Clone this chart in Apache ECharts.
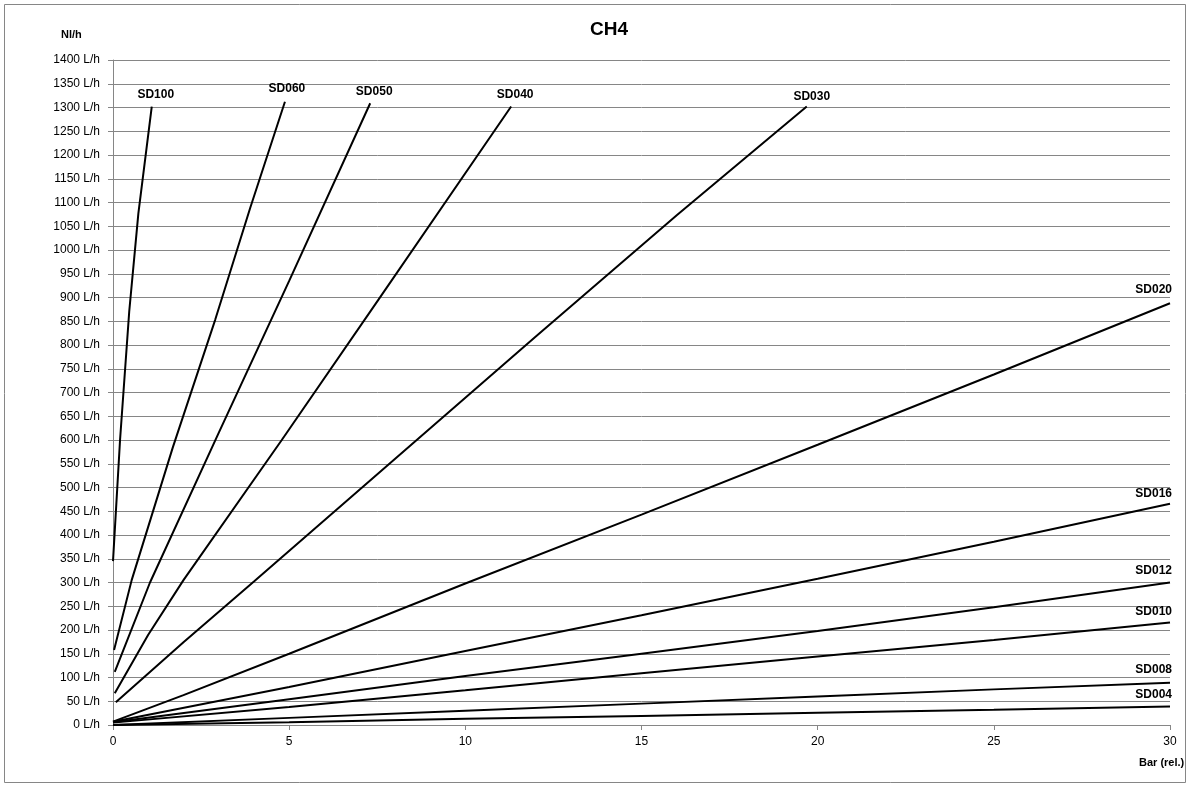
<!DOCTYPE html>
<html>
<head>
<meta charset="utf-8">
<script src="https://cdn.jsdelivr.net/npm/echarts@6/dist/echarts.min.js"></script>
<style>
html,body{margin:0;padding:0;background:#fff;}
#chart{width:1190px;height:785px;}
</style>
</head>
<body>
<div id="chart"></div>
<script>
// ---- data (Bar rel. , Nl/h) ----
const seriesNames = ['SD100','SD060','SD050','SD040','SD030','SD020','SD016','SD012','SD010','SD008','SD004'];
const sd100 = [[0,345],[0.2,600],[0.46,870],[0.72,1077],[1.1,1302]];
const sd060 = [[0.03,158],[0.53,305],[1.7,585],[2.9,853],[3.9,1090],[4.88,1312]];
const sd050 = [[0.05,112],[1.05,300],[3,615],[5,935],[7.3,1309]];
const sd040 = [[0.05,67],[1,190],[2,305],[4.79,600],[7.53,895],[11.3,1302]];
const sd030 = [[0.08,48],[2,174],[4,302],[8,560],[12,818],[16,1073],[19.69,1302]];
const sd020 = [[0,7],[1,35],[2,63],[5,150],[10,298],[15,443],[20,590],[25,738],[30,888]];
const sd016 = [[0,7],[5,80],[10,156],[15,231],[20,308],[25,386],[30,466]];
const sd012 = [[0,6],[5,54],[10,103],[15,150],[20,198],[25,248],[30,300]];
const sd010 = [[0,5],[5,38],[10,73],[15,109],[20,144],[25,179],[30,216]];
const sd008 = [[0,0],[5,15],[10,30],[15,45],[20,60],[25,75],[30,89]];
const sd004 = [[0,0],[5,6],[10,13],[15,19],[20,26],[25,32],[30,39]];
const allData = [sd100,sd060,sd050,sd040,sd030,sd020,sd016,sd012,sd010,sd008,sd004];
const yTickStep = 50;
const xTickStep = 5;

const labelAlign = ['center','center','center','center','center','right','right','right','right','right','right'];
const labelDx = [4,2,4,4,5,2,2,2,2,2,2];
const labelDy = [-12,-13,-12,-12,-10,-14,-10,-12,-11,-13,-12];

const chart = echarts.init(document.getElementById('chart'), null, {renderer:'canvas'});
const FONT = '"Liberation Sans", Arial, sans-serif';

const series = allData.map((d,i)=>({
  name: seriesNames[i],
  type:'line',
  data:d,
  showSymbol:false,
  symbol:'none',
  smooth:false,
  lineStyle:{color:'#000',width:2},
  z:3,
  silent:true,
  animation:false
}));

series.push({
  type:'scatter',
  symbolSize:0,
  silent:true,
  animation:false,
  itemStyle:{color:'#000',opacity:1},
  data: allData.map((d,i)=>({
    value:d[d.length-1],
    label:{
      show:true,
      formatter:seriesNames[i],
      position:'inside',
      align:labelAlign[i],
      verticalAlign:'middle',
      offset:[labelDx[i],labelDy[i]],
      fontFamily:FONT,
      fontWeight:'bold',
      fontSize:12,
      color:'#000',
      opacity:1,
      textBorderWidth:0,
      textBorderColor:'transparent'
    }
  })),
  z:5
});

chart.setOption({
  backgroundColor:'#fff',
  animation:false,
  grid:{left:113,right:20,top:60,bottom:60},
  xAxis:{
    type:'value',min:0,max:30,interval:xTickStep,
    axisLine:{show:true,lineStyle:{color:'#868686',width:1}},
    axisTick:{show:true,length:5,lineStyle:{color:'#868686'}},
    splitLine:{show:false},
    axisLabel:{fontFamily:FONT,fontSize:12,color:'#000',margin:11}
  },
  yAxis:{
    type:'value',min:0,max:1400,interval:yTickStep,
    axisLine:{show:true,lineStyle:{color:'#868686',width:1}},
    axisTick:{show:true,length:5,lineStyle:{color:'#868686'}},
    splitLine:{show:true,lineStyle:{color:'#868686',width:1}},
    axisLabel:{fontFamily:FONT,fontSize:12,color:'#000',margin:13,formatter:function(v){return String(v)+' L/h';}}
  },
  graphic:[
    {type:'rect',shape:{x:4.5,y:4.5,width:1181,height:778},style:{fill:null,stroke:'#868686',lineWidth:1},silent:true,z:-1},
    {type:'text',left:590,top:20,style:{text:'CH4',font:'bold 19px '+FONT,fill:'#000'}},
    {type:'text',left:61,top:29,style:{text:'Nl/h',font:'bold 11px '+FONT,fill:'#000'}},
    {type:'text',left:1139,top:757,style:{text:'Bar (rel.)',font:'bold 11px '+FONT,fill:'#000'}}
  ],
  series:series
});
</script>
</body>
</html>
